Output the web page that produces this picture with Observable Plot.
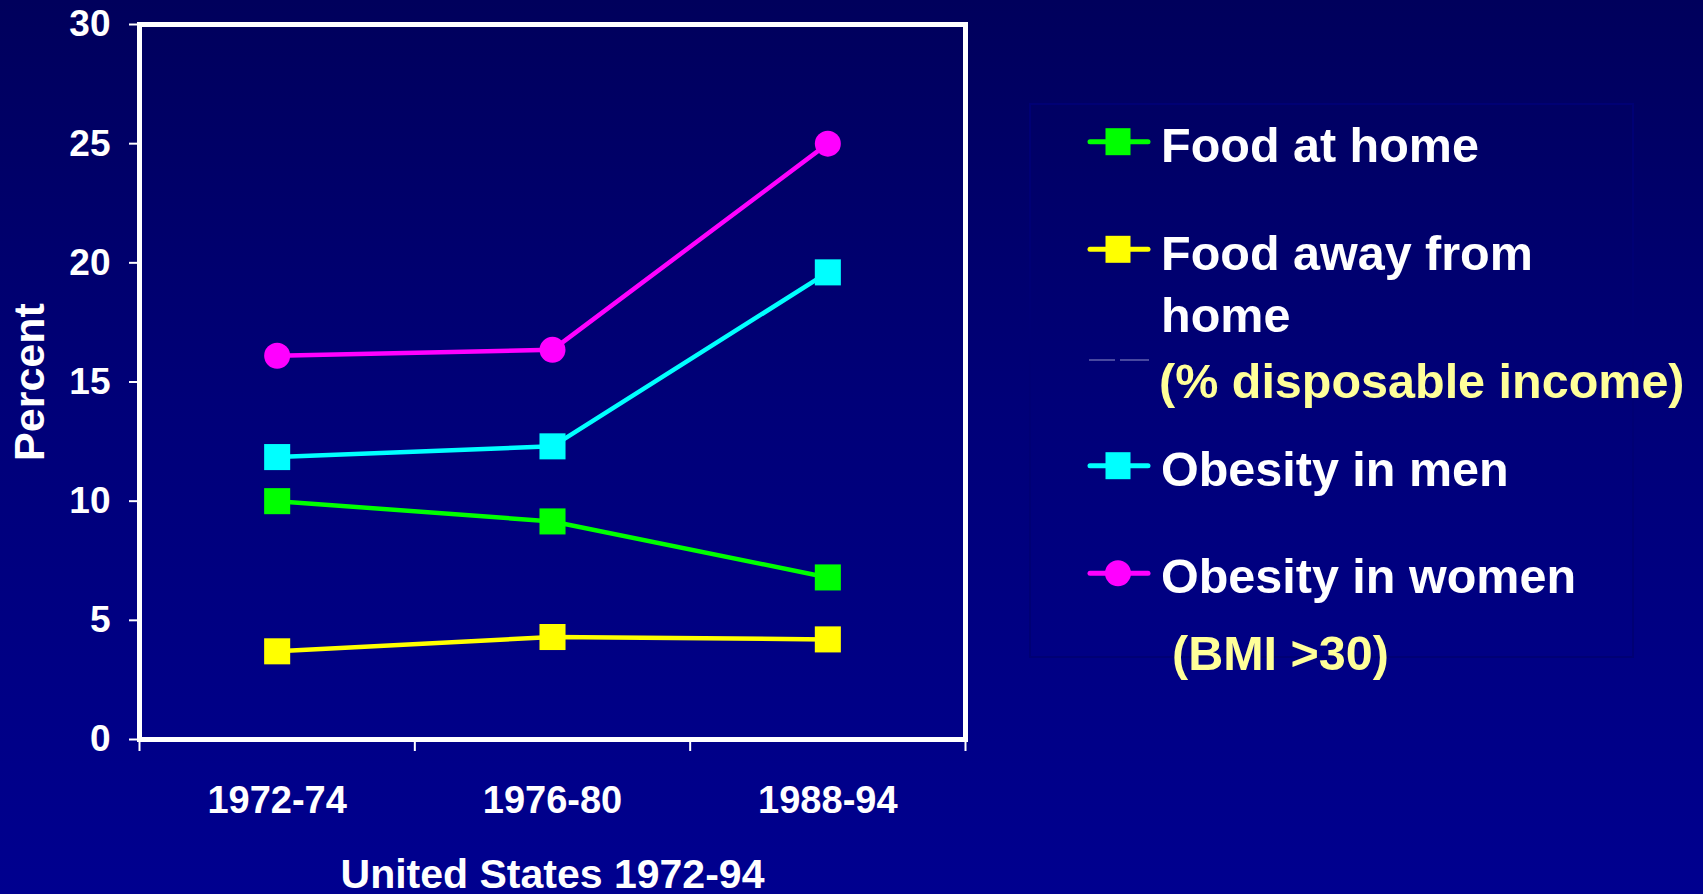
<!DOCTYPE html>
<html>
<head>
<meta charset="utf-8">
<script src="https://cdn.jsdelivr.net/npm/d3@7"></script>
<script src="https://cdn.jsdelivr.net/npm/@observablehq/plot@0.6"></script>
<style>
  html, body { margin: 0; padding: 0; }
  body {
    width: 1703px; height: 894px; overflow: hidden; position: relative;
    background: linear-gradient(to bottom, #00005c 0%, #000078 45%, #00008f 100%);
    font-family: "Liberation Sans", Arial, sans-serif;
  }
  #chart { position: absolute; left: 0; top: 0; }
  #legend { position: absolute; left: 0; top: 0; pointer-events: none; }
</style>
</head>
<body>
<div id="chart"></div>
<svg id="legend" width="1703" height="894"></svg>
<script>
// ---- data ----
const periods = ["1972-74", "1976-80", "1988-94"];
const seriesNames = ["Food at home", "Food away from home", "Obesity in men", "Obesity in women"];
const seriesColors = ["#00ff00", "#ffff00", "#00ffff", "#ff00ff"];
const seriesSymbols = ["square", "square", "square", "circle"];
const foodAtHome = [10.0, 9.15, 6.8];
const foodAway = [3.7, 4.3, 4.2];
const obesityMen = [11.85, 12.3, 19.6];
const obesityWomen = [16.1, 16.35, 25.0];
const yTicks = [0, 5, 10, 15, 20, 25, 30];
const yTitle = "Percent";
const xTitle = "United States 1972-94";
const legendLabels = [["Food at home"], ["Food away from", "home"], ["Obesity in men"], ["Obesity in women"]];
const legendNotes = ["(% disposable income)", "(BMI >30)"];

// ---- table ----
const valuesBySeries = [foodAtHome, foodAway, obesityMen, obesityWomen];
const rows = [];
seriesNames.forEach((s, k) => valuesBySeries[k].forEach((v, i) => rows.push({series: s, i, period: periods[i], value: v})));
const xIdx = periods.map((_, i) => i);
const xBounds = [-0.5, ...periods.map((_, i) => i + 0.5)];

const font = "'Liberation Sans', Arial, sans-serif";

const chart = Plot.plot({
  width: 1703,
  height: 894,
  marginLeft: 139,
  marginRight: 738,
  marginTop: 24,
  marginBottom: 155,
  style: {background: "transparent", color: "white", fontFamily: font, fontWeight: "bold", overflow: "visible"},
  x: {type: "linear", domain: [-0.5, periods.length - 0.5]},
  y: {domain: [0, 30]},
  color: {domain: seriesNames, range: seriesColors},
  symbol: {domain: seriesNames, range: seriesSymbols},
  marks: [
    Plot.axisY({ticks: yTicks, tickSize: 10, tickPadding: 19, fontSize: 37, fontWeight: "bold", strokeWidth: 2, label: null}),
    Plot.axisX({ticks: xBounds, tickSize: 12, strokeWidth: 2, tickFormat: () => "", label: null}),
    Plot.axisX({ticks: xIdx, tickSize: 0, tickPadding: 47, fontSize: 38, fontWeight: "bold", tickFormat: i => periods[i], label: null}),
    Plot.frame({stroke: "white", strokeWidth: 5}),
    Plot.line(rows, {x: "i", y: "value", z: "series", stroke: "series", strokeWidth: 4.5}),
    Plot.dot(rows.filter(d => d.series !== "Obesity in women"), {x: "i", y: "value", fill: "series", symbol: "series", r: 14.7}),
    Plot.dot(rows.filter(d => d.series === "Obesity in women"), {x: "i", y: "value", fill: "series", symbol: "series", r: 13}),
    Plot.text([yTitle], {frameAnchor: "left", textAnchor: "middle", rotate: -90, dx: -96, lineAnchor: "bottom", fontSize: 43, fontWeight: "bold", fill: "white"}),
    Plot.text([xTitle], {frameAnchor: "bottom", textAnchor: "middle", dy: 148, lineAnchor: "bottom", fontSize: 41, fontWeight: "bold", fill: "white"})
  ]
});
document.getElementById("chart").appendChild(chart);

// ---- legend (layout) ----
const lg = d3.select("#legend");
lg.append("rect").attr("x", 1030).attr("y", 104).attr("width", 603).attr("height", 553)
  .attr("fill", "none").attr("stroke", "#000074").attr("stroke-width", 2);
const symY = [141.7, 249.3, 465.7, 573.3];
const baseY = [[161.7], [270, 331.7], [486], [593.3]];
const fs = 48.5;
seriesNames.forEach((s, k) => {
  const cy = symY[k];
  lg.append("line").attr("x1", 1090).attr("x2", 1148).attr("y1", cy).attr("y2", cy)
    .attr("stroke", seriesColors[k]).attr("stroke-width", 5).attr("stroke-linecap", "round");
  if (seriesSymbols[k] === "circle") {
    lg.append("circle").attr("cx", 1118).attr("cy", cy).attr("r", 13).attr("fill", seriesColors[k]);
  } else {
    lg.append("rect").attr("x", 1118 - 12.5).attr("y", cy - 13.5).attr("width", 25).attr("height", 27).attr("fill", seriesColors[k]);
  }
  legendLabels[k].forEach((t, j) => {
    lg.append("text").attr("x", 1161).attr("y", baseY[k][j]).text(t)
      .attr("fill", "white").attr("font-size", fs).attr("font-weight", "bold").attr("font-family", font);
  });
});
// faint dashes
lg.append("line").attr("x1", 1089).attr("x2", 1115).attr("y1", 360).attr("y2", 360).attr("stroke", "#4848a0").attr("stroke-width", 2);
lg.append("line").attr("x1", 1120).attr("x2", 1149).attr("y1", 360).attr("y2", 360).attr("stroke", "#4848a0").attr("stroke-width", 2);
const notePos = [[1159, 398.3], [1172, 670]];
legendNotes.forEach((t, j) => {
  lg.append("text").attr("x", notePos[j][0]).attr("y", notePos[j][1]).text(t)
    .attr("fill", "#ffff99").attr("font-size", fs).attr("font-weight", "bold").attr("font-family", font);
});
</script>
</body>
</html>
